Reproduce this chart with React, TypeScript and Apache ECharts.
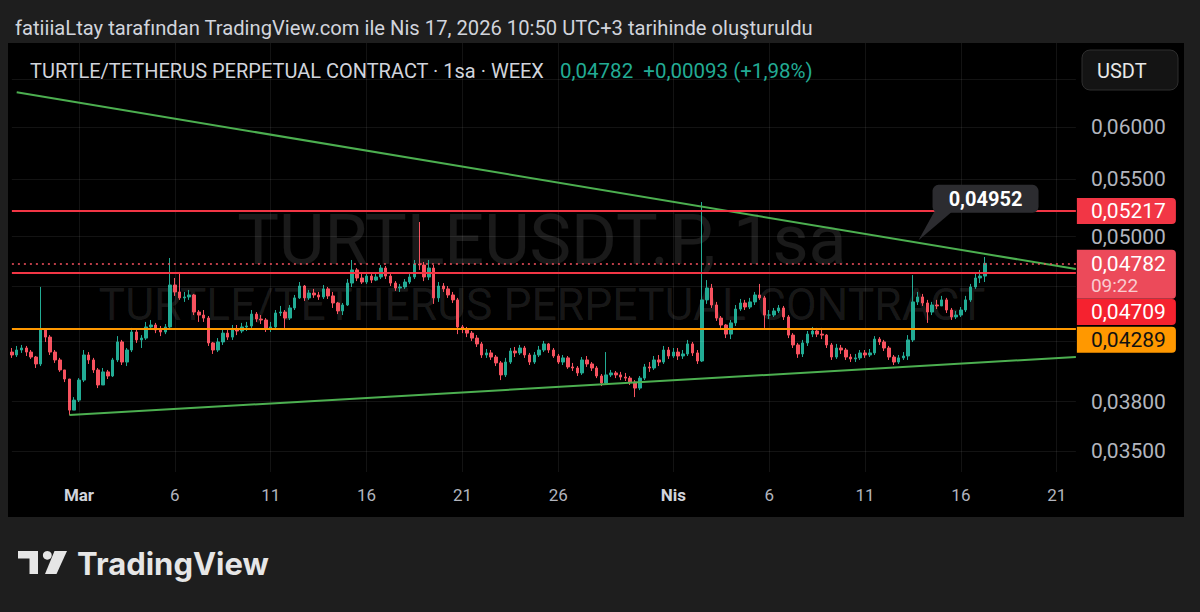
import React, { useEffect, useRef } from "react";
import * as echarts from "echarts";

// ---------- data ----------
const START_UTC = Date.UTC(2026, 1, 25, 12); // first 6h slot (Feb 25 12:00)
const SLOT_HOURS = 6;
const SLOT_COUNT = 223; // slots up to Apr 22

const firstOpen = 4126; // price x 1e-5
const closes = [
  4106, 4140, 4154, 4126, 4092, 4045, 4280, 4230, 4126, 4072,
  4005, 3945, 3746, 3809, 3938, 4106, 4072, 4005, 3906, 3992,
  3965, 4072, 4196, 4058, 4140, 4266, 4210, 4223, 4302, 4316,
  4280, 4266, 4302, 4613, 4560, 4515, 4522, 4537, 4410, 4388,
  4366, 4189, 4140, 4196, 4258, 4230, 4287, 4273, 4302, 4309,
  4395, 4359, 4352, 4295, 4302, 4403, 4410, 4366, 4440, 4515,
  4605, 4515, 4552, 4537, 4522, 4583, 4530, 4477, 4418, 4462,
  4628, 4730, 4667, 4636, 4682, 4651, 4675, 4745, 4682, 4628,
  4590, 4598, 4636, 4675, 4777, 4769, 4675, 4745, 4515, 4605,
  4583, 4537, 4500, 4302, 4287, 4258, 4223, 4182, 4106, 4120,
  4092, 4052, 3972, 4058, 4133, 4120, 4154, 4106, 4058, 4106,
  4140, 4182, 4140, 4099, 4058, 4086, 4025, 4018, 3985, 4072,
  4045, 4018, 3965, 3919, 3972, 3985, 3972, 3958, 3951, 3925,
  3886, 3951, 4025, 4018, 4072, 4058, 4140, 4099, 4126, 4099,
  4113, 4182, 4120, 4065, 4500, 4590, 4462, 4366, 4316, 4251,
  4331, 4432, 4477, 4447, 4485, 4537, 4515, 4388, 4388, 4418,
  4440, 4374, 4244, 4175, 4113, 4189, 4251, 4273, 4251, 4244,
  4175, 4092, 4154, 4140, 4092, 4079, 4086, 4120, 4106, 4120,
  4216, 4196, 4154, 4092, 4058, 4086, 4099, 4210, 4485, 4522,
  4477, 4410, 4462, 4455, 4500, 4425, 4374, 4388, 4425, 4500,
  4598, 4667, 4682, 4782,
];
const highs = [
  4154, 4168, 4175, 4168, 4140, 4099, 4598, 4280, 4244, 4140,
  4086, 4005, 3938, 3828, 3951, 4140, 4126, 4086, 4018, 4018,
  4005, 4086, 4237, 4210, 4154, 4295, 4280, 4244, 4338, 4352,
  4331, 4309, 4323, 4825, 4667, 4714, 4560, 4575, 4545, 4425,
  4425, 4381, 4196, 4223, 4280, 4280, 4316, 4316, 4331, 4338,
  4425, 4410, 4388, 4366, 4338, 4425, 4455, 4425, 4462, 4537,
  4636, 4613, 4575, 4583, 4560, 4613, 4598, 4560, 4485, 4477,
  4659, 4809, 4745, 4698, 4714, 4698, 4698, 4769, 4761, 4698,
  4643, 4621, 4659, 4706, 4809, 5123, 4793, 4809, 4769, 4636,
  4628, 4605, 4560, 4515, 4316, 4302, 4273, 4244, 4196, 4147,
  4140, 4106, 4065, 4086, 4154, 4161, 4175, 4168, 4120, 4126,
  4168, 4203, 4189, 4154, 4113, 4106, 4099, 4052, 4031, 4092,
  4099, 4058, 4031, 3978, 4126, 4005, 3998, 3992, 3985, 3965,
  3938, 3965, 4045, 4058, 4099, 4106, 4168, 4161, 4154, 4154,
  4140, 4210, 4196, 4140, 5296, 4651, 4621, 4485, 4381, 4323,
  4352, 4462, 4507, 4500, 4515, 4560, 4621, 4530, 4425, 4440,
  4462, 4455, 4388, 4258, 4189, 4210, 4273, 4302, 4295, 4295,
  4251, 4189, 4182, 4175, 4154, 4113, 4113, 4140, 4140, 4147,
  4237, 4230, 4210, 4168, 4106, 4106, 4126, 4244, 4690, 4560,
  4545, 4500, 4485, 4500, 4530, 4515, 4440, 4418, 4447, 4530,
  4621, 4698, 4730, 4833,
];
const lows = [
  4086, 4092, 4120, 4099, 4079, 4018, 4031, 4196, 4106, 4052,
  3992, 3925, 3715, 3746, 3797, 3925, 4045, 3985, 3886, 3906,
  3945, 3958, 4058, 4038, 4031, 4126, 4189, 4154, 4210, 4280,
  4258, 4237, 4251, 4280, 4530, 4500, 4485, 4500, 4388, 4338,
  4338, 4168, 4113, 4126, 4175, 4210, 4210, 4244, 4258, 4273,
  4295, 4338, 4323, 4266, 4266, 4287, 4381, 4295, 4352, 4425,
  4507, 4492, 4500, 4515, 4500, 4507, 4507, 4440, 4395, 4388,
  4455, 4598, 4643, 4621, 4621, 4628, 4643, 4659, 4659, 4605,
  4568, 4560, 4583, 4621, 4659, 4730, 4643, 4651, 4470, 4485,
  4560, 4515, 4477, 4251, 4258, 4230, 4203, 4161, 4086, 4086,
  4072, 4031, 3938, 3958, 4045, 4092, 4106, 4086, 4038, 4045,
  4092, 4126, 4120, 4086, 4045, 4038, 4012, 3998, 3965, 3972,
  4025, 3998, 3951, 3899, 3912, 3958, 3951, 3938, 3932, 3906,
  3828, 3873, 3938, 3992, 4005, 4031, 4045, 4079, 4086, 4072,
  4079, 4099, 4099, 4045, 4058, 4470, 4440, 4345, 4295, 4223,
  4216, 4309, 4418, 4425, 4432, 4462, 4500, 4295, 4359, 4374,
  4403, 4352, 4223, 4154, 4086, 4092, 4168, 4230, 4230, 4216,
  4154, 4072, 4079, 4113, 4072, 4058, 4058, 4072, 4086, 4092,
  4106, 4175, 4133, 4072, 4038, 4045, 4072, 4072, 4196, 4462,
  4455, 4331, 4388, 4432, 4455, 4403, 4352, 4359, 4374, 4410,
  4485, 4583, 4628, 4636,
];

const priceTickValues = [0.035, 0.038, 0.05, 0.055, 0.06];
const priceGridValues = [0.035, 0.038, 0.042, 0.046, 0.05, 0.055, 0.06, 0.065];
const dateTickKeys = [
  "2026-03-01T00", "2026-03-06T00", "2026-03-11T00", "2026-03-16T00",
  "2026-03-21T00", "2026-03-26T00", "2026-04-01T00", "2026-04-06T00",
  "2026-04-11T00", "2026-04-16T00", "2026-04-21T00",
];
const dateTickLabels = ["Mar", "6", "11", "16", "21", "26", "Nis", "6", "11", "16", "21"];

const resistanceLevel = 0.05217;
const supportLevel = 0.04709;
const lowerLevel = 0.04289;
const lastPrice = 0.04782;
const lastTime = "09:22";
const upperTrend = [[1, 0.06357], [222, 0.04737]];
const lowerTrend = [[12, 0.03715], [222, 0.04092]];
const calloutPoint = [190, 0.04952];

const titleText = "fatiiiaLtay tarafından TradingView.com ile Nis 17, 2026 10:50 UTC+3 tarihinde oluşturuldu";
const symbolText = "TURTLE/TETHERUS PERPETUAL CONTRACT · 1sa · WEEX";
const quoteText = "0,04782  +0,00093 (+1,98%)";

// ---------- helpers ----------
const FONT = "Roboto, 'Noto Sans', sans-serif";
const fmt = (v: number) => v.toFixed(5).replace(".", ",");
const pad = (n: number) => String(n).padStart(2, "0");
const categories: string[] = [];
for (let i = 0; i < SLOT_COUNT; i++) {
  const d = new Date(START_UTC + i * SLOT_HOURS * 3600 * 1000);
  categories.push(`${d.getUTCFullYear()}-${pad(d.getUTCMonth() + 1)}-${pad(d.getUTCDate())}T${pad(d.getUTCHours())}`);
}
const ohlc = closes.map((c, i) => {
  const o = i === 0 ? firstOpen : closes[i - 1];
  const h = Math.max(highs[i], o, c);
  const l = Math.min(lows[i], o, c);
  return [o / 1e5, c / 1e5, l / 1e5, h / 1e5];
});

const UP = "#22ab94";
const DOWN = "#f7525f";
const GRID = "rgba(255,255,255,0.075)";
const AXIS_FS = 21;

function levelLabel(text: string, bg: string, color: string, dy: number) {
  return {
    show: true,
    position: "end" as const,
    distance: 1,
    formatter: text,
    color,
    fontFamily: FONT,
    fontSize: AXIS_FS,
    lineHeight: 20,
    backgroundColor: bg,
    padding: [3, 4, 3, 14],
    width: 81,
    borderRadius: [0, 4, 4, 0],
    offset: [0, dy],
  };
}

export default function App() {
  const ref = useRef<HTMLDivElement>(null);
  useEffect(() => {
    if (!ref.current) return;
    const chart = echarts.init(ref.current, undefined, { renderer: "svg" });
    const isTick = (_: number, v: string) => dateTickKeys.indexOf(v) >= 0;
    const option: any = {
      animation: false,
      backgroundColor: "transparent",
      grid: { left: 11.9, right: 124.1, top: 43, bottom: 140 },
      xAxis: {
        type: "category",
        data: categories,
        boundaryGap: false,
        axisLine: { show: false },
        axisTick: { show: false },
        axisLabel: {
          interval: isTick,
          formatter: (v: string) => {
            const t = dateTickLabels[dateTickKeys.indexOf(v)] || "";
            return /^\d+$/.test(t) ? t : `{m|${t}}`;
          },
          color: "#b2b5be",
          fontFamily: FONT,
          fontSize: 17,
          margin: 14,
          rich: { m: { color: "#d1d4dc", fontWeight: "bold", fontFamily: FONT, fontSize: 17 } },
        },
        splitLine: { show: true, interval: isTick, lineStyle: { color: GRID, width: 1 } },
      },
      yAxis: {
        type: "log",
        logBase: 10,
        min: 0.033795,
        max: 0.069,
        position: "right",
        axisLine: { show: false },
        axisTick: { show: false },
        splitLine: { show: false },
        axisLabel: {
          customValues: priceTickValues,
          formatter: (v: number) => fmt(v),
          color: "#b2b5be",
          fontFamily: FONT,
          fontSize: AXIS_FS,
          margin: 15,
        },
      },
      series: [
        {
          type: "line",
          data: [],
          z: 1,
          silent: true,
          markLine: {
            silent: true,
            precision: 6,
            symbol: ["none", "none"],
            label: { show: false },
            lineStyle: { color: GRID, width: 1, type: "solid" },
            data: priceGridValues.map((v) => ({ yAxis: v })),
          },
        },
        {
          type: "candlestick",
          z: 3,
          data: ohlc,
          barWidth: 3,
          itemStyle: { color: UP, color0: DOWN, borderColor: UP, borderColor0: DOWN, borderWidth: 1 },
        },
        {
          type: "line",
          data: [],
          z: 5,
          silent: true,
          markLine: {
            silent: true,
            precision: 6,
            symbol: ["none", "none"],
            data: [
              [
                { coord: upperTrend[0], lineStyle: { color: "#4caf50", width: 2, type: "solid" }, label: { show: false } },
                { coord: upperTrend[1] },
              ],
              [
                { coord: lowerTrend[0], lineStyle: { color: "#4caf50", width: 2, type: "solid" }, label: { show: false } },
                { coord: lowerTrend[1] },
              ],
              {
                yAxis: resistanceLevel,
                lineStyle: { color: "#f23645", width: 2, type: "solid" },
                label: levelLabel(fmt(resistanceLevel), "#f23645", "#ffffff", 0),
              },
              {
                yAxis: supportLevel,
                lineStyle: { color: "#f23645", width: 2, type: "solid" },
                label: levelLabel(fmt(supportLevel), "#f5222f", "#ffffff", 39.5),
              },
              {
                yAxis: lowerLevel,
                lineStyle: { color: "#ff9800", width: 2, type: "solid" },
                label: levelLabel(fmt(lowerLevel), "#ff9800", "#111111", 11),
              },
              {
                yAxis: lastPrice,
                lineStyle: { color: DOWN, width: 1.5, type: [2, 4] },
                label: {
                  ...levelLabel("", "#ec4a5a", "#ffffff", 11),
                  formatter: `{p|${fmt(lastPrice)}}\n{t|${lastTime}}`,
                  rich: {
                    p: { color: "#ffffff", fontFamily: FONT, fontSize: AXIS_FS, lineHeight: 22 },
                    t: { color: "rgba(255,255,255,0.72)", fontFamily: FONT, fontSize: 19, lineHeight: 21 },
                  },
                },
              },
            ],
          },
        },
      ],
      graphic: [
        {
          id: "wm1", type: "text", z: 0, silent: true,
          style: { text: "TURTLEUSDT.P, 1sa", x: 542, y: 240, align: "center", verticalAlign: "middle",
            fontSize: 70, fontFamily: FONT, fill: "rgba(255,255,255,0.1)" },
        },
        {
          id: "wm2", type: "text", z: 0, silent: true,
          style: { text: "TURTLE/TETHERUS PERPETUAL CONTRACT", x: 542, y: 305, align: "center", verticalAlign: "middle",
            fontSize: 44.5, fontFamily: FONT, fill: "rgba(255,255,255,0.1)" },
        },
        {
          id: "title", type: "text",
          style: { text: titleText, x: 15, y: 28, verticalAlign: "middle", fontSize: 20.2, fontFamily: FONT, fill: "#d1d4dc" },
        },
        {
          id: "header", type: "text",
          style: { text: symbolText, x: 30, y: 71, verticalAlign: "middle", fontSize: 20, fontFamily: FONT, fill: "#d1d4dc" },
        },
        {
          id: "quote", type: "text",
          style: { text: quoteText, x: 560, y: 71, verticalAlign: "middle", fontSize: 20.5, fontFamily: FONT, fill: "#22ab94" },
        },
        {
          id: "usdtBox", type: "rect",
          shape: { x: 1082, y: 50, width: 96, height: 40, r: 8 },
          style: { fill: "#141414", stroke: "#2e2e2e", lineWidth: 1 },
        },
        {
          id: "usdtText", type: "text",
          style: { text: "USDT", x: 1097, y: 70.5, verticalAlign: "middle", fontSize: 20, fontFamily: FONT, fill: "#e8e8e8" },
        },
        { id: "logo1", type: "rect", shape: { x: 18, y: 551, width: 20, height: 7.5 }, style: { fill: "#e6e6e6" } },
        { id: "logo2", type: "rect", shape: { x: 29.5, y: 551, width: 8.5, height: 23 }, style: { fill: "#e6e6e6" } },
        { id: "logo3", type: "circle", shape: { cx: 47.3, cy: 555.3, r: 4.4 }, style: { fill: "#e6e6e6" } },
        {
          id: "logo4", type: "polygon",
          shape: { points: [[54.5, 551], [67, 551], [56.5, 574], [45, 574]] },
          style: { fill: "#e6e6e6" },
        },
        {
          id: "logoText", type: "text",
          style: { text: "TradingView", x: 77, y: 563, verticalAlign: "middle", fontSize: 31, fontWeight: "bold",
            fontFamily: "Inter, Roboto, sans-serif", fill: "#e6e6e6" },
        },
      ],
    };
    chart.setOption(option);
    const p = chart.convertToPixel({ seriesIndex: 1 }, calloutPoint) as number[];
    if (p && isFinite(p[0]) && isFinite(p[1])) {
      chart.setOption({
        graphic: [
          {
            id: "calloutTail", type: "polygon", z: 6,
            shape: { points: [[p[0] + 12, p[1] - 31], [p[0] + 30, p[1] - 31], [p[0] - 4, p[1] - 2]] },
            style: { fill: "#2c2c30" },
          },
          {
            id: "calloutBox", type: "rect", z: 6,
            shape: { x: p[0] + 10, y: p[1] - 57.5, width: 106, height: 28, r: 6 },
            style: { fill: "#2c2c30" },
          },
          {
            id: "calloutText", type: "text", z: 7,
            style: { text: fmt(calloutPoint[1]), x: p[0] + 63, y: p[1] - 43.5, align: "center", verticalAlign: "middle",
              fontSize: 20, fontWeight: "bold", fontFamily: FONT, fill: "#ffffff" },
          },
        ],
      });
    }
    return () => chart.dispose();
  }, []);

  return (
    <div style={{ position: "fixed", left: 0, top: 0, width: 1200, height: 612, background: "#1e1e1e" }}>
      <div style={{ position: "absolute", left: 8, top: 43, width: 1176, height: 474, background: "#000000" }} />
      <div ref={ref} style={{ position: "absolute", left: 0, top: 0, width: 1200, height: 612 }} />
    </div>
  );
}
